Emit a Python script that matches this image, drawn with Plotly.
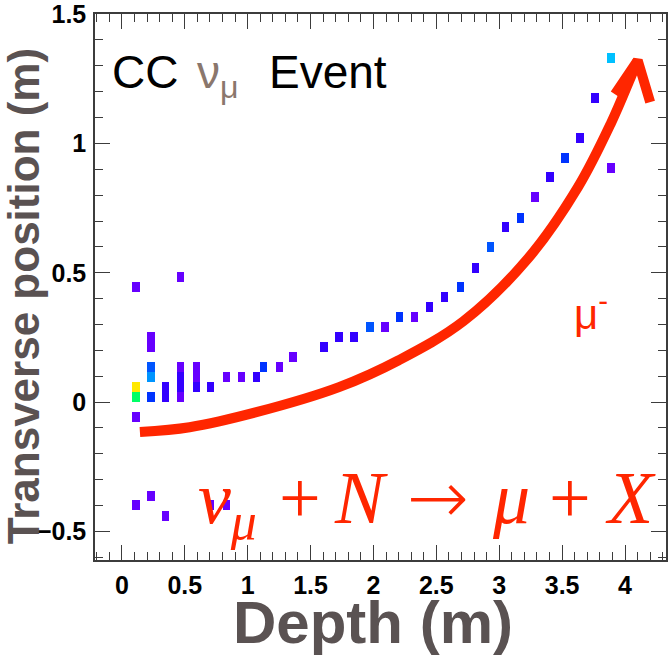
import plotly.graph_objects as go

# Scintillator hits: depth (m), transverse position (m), relative charge
hit_depth = [0.111, 0.111, 0.111, 0.111, 0.111,
             0.230, 0.230, 0.230, 0.230, 0.230, 0.230,
             0.348, 0.348, 0.348,
             0.467, 0.467, 0.467, 0.467, 0.467,
             0.594, 0.594, 0.594,
             0.705, 0.705, 0.831, 0.831, 0.950, 1.069, 1.124, 1.251, 1.362,
             1.607, 1.726, 1.845, 1.971, 2.090, 2.209, 2.328, 2.447, 2.565,
             2.692, 2.811, 2.930, 3.048, 3.167, 3.286, 3.405, 3.523, 3.642,
             3.761, 3.888, 3.888]
hit_pos = [0.444, 0.058, 0.019, -0.058, -0.398,
           0.251, 0.213, 0.135, 0.097, 0.019, -0.363,
           0.058, 0.019, -0.440,
           0.483, 0.135, 0.097, 0.058, 0.019,
           0.135, 0.097, 0.058,
           0.058, -0.398, 0.097, -0.398, 0.097, 0.097, 0.135, 0.135, 0.174,
           0.213, 0.251, 0.251, 0.290, 0.290, 0.328, 0.328, 0.367, 0.406,
           0.444, 0.518, 0.599, 0.676, 0.711, 0.792, 0.869, 0.943, 1.020,
           1.175, 1.329, 0.904]
hit_charge = [0, 90, 80, 0, 0,
              0, 0, 40, 55, 30, 0,
              15, 15, 0,
              0, 0, 15, 15, 0,
              0, 0, 15,
              15, 0, 0, 0, 0, 15, 30, 0, 0,
              15, 15, 15, 40, 0, 30, 0, 15, 15,
              30, 15, 40, 15, 30, 0, 15, 30, 15,
              15, 65, 0]

# Cell size: plane pitch x strip width (m)
cell_w = 0.0594
cell_h = 0.0386

# Sketched muon trajectory and its arrowhead
track_x = [0.143, 0.538, 1.069, 1.726, 2.201, 2.716, 3.230, 3.626, 3.888, 4.046, 4.101]
track_y = [-0.116, -0.097, -0.039, 0.058, 0.162, 0.313, 0.556, 0.831, 1.078, 1.256, 1.321]
head_x = [3.920, 4.101, 4.200]
head_y = [1.190, 1.321, 1.160]

x_ticks = [0, 0.5, 1, 1.5, 2, 2.5, 3, 3.5, 4]
y_ticks = [-0.5, 0, 0.5, 1, 1.5]

palette = [[0.00, "#6600ff"], [0.15, "#3300ff"], [0.30, "#0033ff"],
           [0.40, "#0055ff"], [0.55, "#0095ff"], [0.65, "#00c0ff"],
           [0.80, "#00ff66"], [0.90, "#ffe800"], [1.00, "#ff0000"]]

RED = "#ff2600"
GREY = "#5a5252"
FRAME = "#3c3c3c"

fig = go.Figure()

fig.add_trace(go.Bar(
    x=hit_depth,
    y=[cell_h] * len(hit_depth),
    base=[p - cell_h / 2 for p in hit_pos],
    width=cell_w,
    marker=dict(color=hit_charge, colorscale=palette, cmin=0, cmax=100,
                line=dict(width=0)),
    showlegend=False,
    hoverinfo="skip",
))

fig.add_trace(go.Scatter(
    x=track_x, y=track_y, mode="lines",
    line=dict(color=RED, width=10, shape="spline", smoothing=1.0),
    showlegend=False, hoverinfo="skip",
))
fig.add_trace(go.Scatter(
    x=head_x, y=head_y, mode="lines",
    line=dict(color=RED, width=10),
    showlegend=False, hoverinfo="skip",
))

W, H = 668, 658
ML, MR, MT, MB = 95, 0, 14, 98
pw, ph = W - ML - MR, H - MT - MB


def px(xp):
    return (xp - ML) / pw


def py(yp):
    return (H - MB - yp) / ph


tickfont = dict(family="Liberation Sans", size=25, color="black", weight="bold")
axis_common = dict(
    showgrid=False, zeroline=False,
    showline=True, linecolor=FRAME, linewidth=1.5, mirror="allticks",
    ticks="inside", ticklen=15, tickwidth=1.2, tickcolor=FRAME,
    minor=dict(ticks="inside", ticklen=8, tickwidth=1, tickcolor=FRAME, dtick=0.1),
    tickfont=tickfont, ticklabeloverflow="allow",
)

fig.update_xaxes(range=[-0.214, 4.326], tickvals=x_ticks, ticklabelstandoff=2,
                 **axis_common)
fig.update_yaxes(range=[-0.6105, 1.5005], tickvals=y_ticks, ticklabelstandoff=2,
                 **axis_common)

annotations = [
    dict(text="CC", x=px(110), y=py(44), xanchor="left", yanchor="top",
         font=dict(family="Liberation Sans", size=46, color="black")),
    dict(text="ν<sub>μ</sub>", x=px(195), y=py(44), xanchor="left", yanchor="top",
         font=dict(family="Liberation Sans", size=46, color="#8a776d")),
    dict(text="Event", x=px(268), y=py(44), xanchor="left", yanchor="top",
         font=dict(family="Liberation Sans", size=46, color="black")),
    dict(text="μ<sup>-</sup>", x=px(574), y=py(282), xanchor="left", yanchor="top",
         font=dict(family="Liberation Sans", size=42, color=RED)),
    dict(text="<b>Depth (m)</b>", x=px(374), y=py(622), xanchor="center", yanchor="middle",
         font=dict(family="Liberation Sans", size=60, color=GREY)),
    dict(text="<b>Transverse position (m)</b>", x=px(24), y=py(296), textangle=-90,
         xanchor="center", yanchor="middle",
         font=dict(family="Liberation Sans", size=44, color=GREY)),
]

# Reaction equation, one token at a time
eq_tokens = ["<i>ν</i><sub><i>μ</i></sub>", "+", "<i>N</i>", "→", "<i>μ</i>", "+", "<i>X</i>"]
eq_left = [196, 278, 333, 406, 491, 549, 605]
for tok, left in zip(eq_tokens, eq_left):
    fam = "DejaVu Sans" if tok == "→" else "Liberation Serif"
    annotations.append(dict(
        text=tok, x=px(left), y=py(455 if tok != "→" else 452),
        xanchor="left", yanchor="top",
        font=dict(family=fam, size=74, color=RED, weight=200 if tok == "→" else "normal"),
    ))

for a in annotations:
    a.update(xref="paper", yref="paper", showarrow=False)

fig.update_layout(
    width=W, height=H,
    margin=dict(l=ML, r=MR, t=MT, b=MB, pad=0),
    paper_bgcolor="white", plot_bgcolor="white",
    barmode="overlay", bargap=0,
    showlegend=False,
    annotations=annotations,
)

fig.write_html("out.html")
